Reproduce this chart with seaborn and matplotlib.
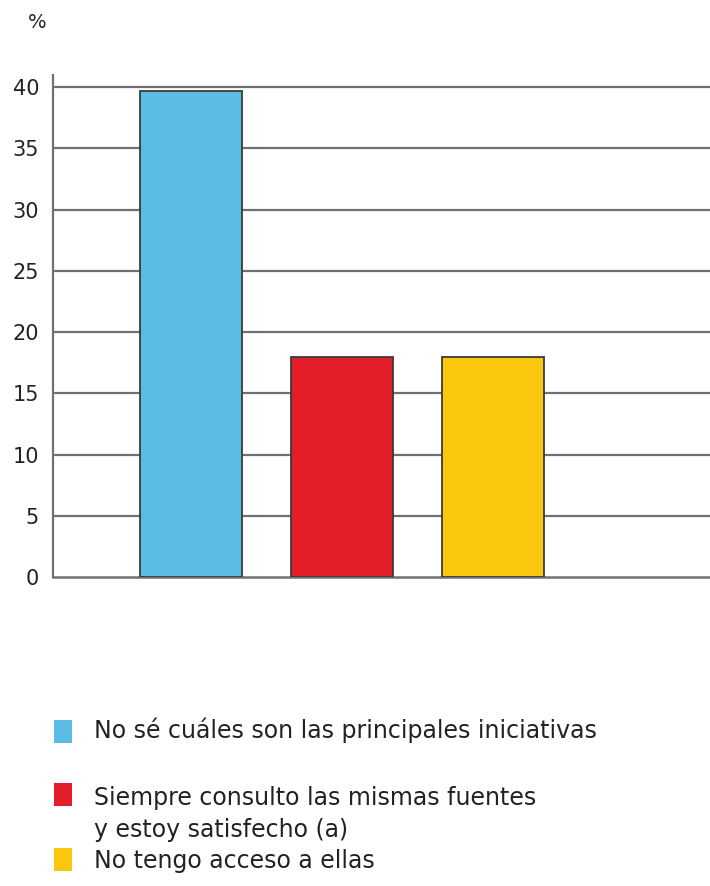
import numpy as np
import pandas as pd
import matplotlib
matplotlib.use("Agg")
import matplotlib.pyplot as plt
import seaborn as sns
from matplotlib.patches import Rectangle

## data
categories = ["No sé cuáles son las principales iniciativas",
              "Siempre consulto las mismas fuentes\ny estoy satisfecho (a)",
              "No tengo acceso a ellas"]
values = [39.7, 18.0, 18.0]
colors = ["#5bbde4", "#e31e2a", "#fbc60e"]
yticks = [0, 5, 10, 15, 20, 25, 30, 35, 40]

df = pd.DataFrame({"cat": categories, "val": values})

sns.set_style("white")
plt.rcParams["font.family"] = ["DejaVu Sans"]

fig = plt.figure(figsize=(7.1, 8.86), dpi=100)
ax = fig.add_axes([53 / 710, 1 - 577 / 886, 1 - 53 / 710, (577 - 75) / 886])

sns.barplot(data=df, x="cat", y="val", hue="cat", palette=colors, legend=False,
            saturation=1, width=0.68, edgecolor="#3a3a3a", linewidth=1.3, ax=ax, zorder=3)

ax.set_ylim(0, 41)
ax.set_xlim(-0.914, 3.437)
ax.set_yticks(yticks)
ax.set_yticklabels([str(t) for t in yticks], fontsize=15, color="#222222")
ax.tick_params(axis="y", length=0, pad=10)
ax.set_xticks([])
ax.set_xlabel("")
ax.set_ylabel("")

# grid lines
for t in yticks[1:]:
    ax.axhline(t, color="#707070", lw=1.6, zorder=1)

for s in ["top", "right"]:
    ax.spines[s].set_visible(False)
ax.spines["left"].set_color("#707070")
ax.spines["left"].set_linewidth(1.6)
ax.spines["bottom"].set_color("#707070")
ax.spines["bottom"].set_linewidth(1.8)

fig.text(37 / 710, 1 - 22 / 886, "%", fontsize=14, ha="center", va="center", color="#222222")

# legend
leg_y = [730, 814, 861]
box_y = [720, 783, 848]
for lab, col, ty, by in zip(categories, colors, leg_y, box_y):
    fig.patches.append(Rectangle((54 / 710, 1 - (by + 23) / 886), 18 / 710, 23 / 886,
                                 transform=fig.transFigure, facecolor=col, edgecolor="none"))
    fig.text(94 / 710, 1 - ty / 886, lab, fontsize=17, ha="left", va="center",
             color="#222222", linespacing=1.4)

fig.savefig("out.png", dpi=100)
